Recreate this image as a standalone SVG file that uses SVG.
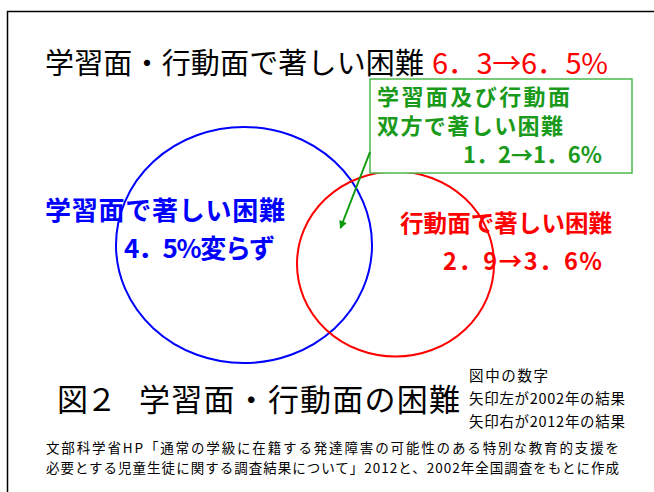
<svg xmlns="http://www.w3.org/2000/svg" width="654" height="492" viewBox="0 0 654 492">
<style>
text{font-family:"Noto Sans CJK JP","Noto Sans",sans-serif;}
.b{font-weight:bold;}
.blk{fill:#000;}
.red{fill:#FF0000;}
.blue{fill:#0000FF;}
.grn{fill:#1A9A1A;}
</style>
<defs>
<marker id="ah" markerWidth="8" markerHeight="8" refX="7" refY="4" orient="auto" markerUnits="userSpaceOnUse">
<path d="M0,0 L8,4 L0,8 Z" fill="#109A10"/>
</marker>
</defs>
<rect width="654" height="492" fill="#fff"/>
<path d="M7.5,492 V11.5 H654" fill="none" stroke="#000" stroke-width="1.5"/>

<g id="title">
<text x="45" y="74" font-size="29" class="blk" textLength="379">学習面・行動面で著しい困難</text>
<text x="432" y="74" font-size="29" class="red" textLength="176">6．3→6．5%</text>
</g>

<g id="circle-learning">
<ellipse cx="244" cy="245" rx="128" ry="118" fill="none" stroke="#0000FF" stroke-width="2"/>
<text x="45" y="220" font-size="26" class="b blue" textLength="240">学習面で著しい困難</text>
<text x="124" y="258" font-size="26" class="b blue" textLength="151">4．5%変らず</text>
</g>

<g id="circle-behavior">
<ellipse cx="395.5" cy="264" rx="98.5" ry="92.5" fill="none" stroke="#FF0000" stroke-width="2"/>
<text x="400" y="232" font-size="23.5" class="b red" textLength="212">行動面で著しい困難</text>
<text x="443" y="270" font-size="23.5" class="b red" textLength="159">2．9→3．6%</text>
</g>

<g id="both-box">
<rect x="370" y="79" width="262" height="94" fill="#fff" stroke="#4CB84C" stroke-width="1.5"/>
<text x="377" y="105" font-size="22" class="b grn" textLength="193">学習面及び行動面</text>
<text x="377" y="134" font-size="22" class="b grn" textLength="186">双方で著しい困難</text>
<text x="463" y="163" font-size="22" class="b grn" textLength="139">1．2→1．6%</text>
</g>

<g id="connectors">
<line x1="370" y1="152" x2="340.5" y2="228" stroke="#109A10" stroke-width="2" marker-end="url(#ah)"/>
</g>

<g id="caption">
<text x="57" y="411" font-size="31" class="blk" textLength="60">図２</text>
<text x="139" y="411" font-size="31" class="blk" textLength="321">学習面・行動面の困難</text>
<text x="469" y="381" font-size="14.5" class="blk" textLength="79">図中の数字</text>
<text x="469" y="404" font-size="14.5" class="blk" textLength="156">矢印左が2002年の結果</text>
<text x="469" y="426.5" font-size="14.5" class="blk" textLength="156">矢印右が2012年の結果</text>
</g>

<g id="source">
<text x="46" y="453" font-size="13.5" class="blk" textLength="573">文部科学省HP「通常の学級に在籍する発達障害の可能性のある特別な教育的支援を</text>
<text x="46" y="472.5" font-size="13.5" class="blk" textLength="573">必要とする児童生徒に関する調査結果について」2012と、2002年全国調査をもとに作成</text>
</g>
</svg>
